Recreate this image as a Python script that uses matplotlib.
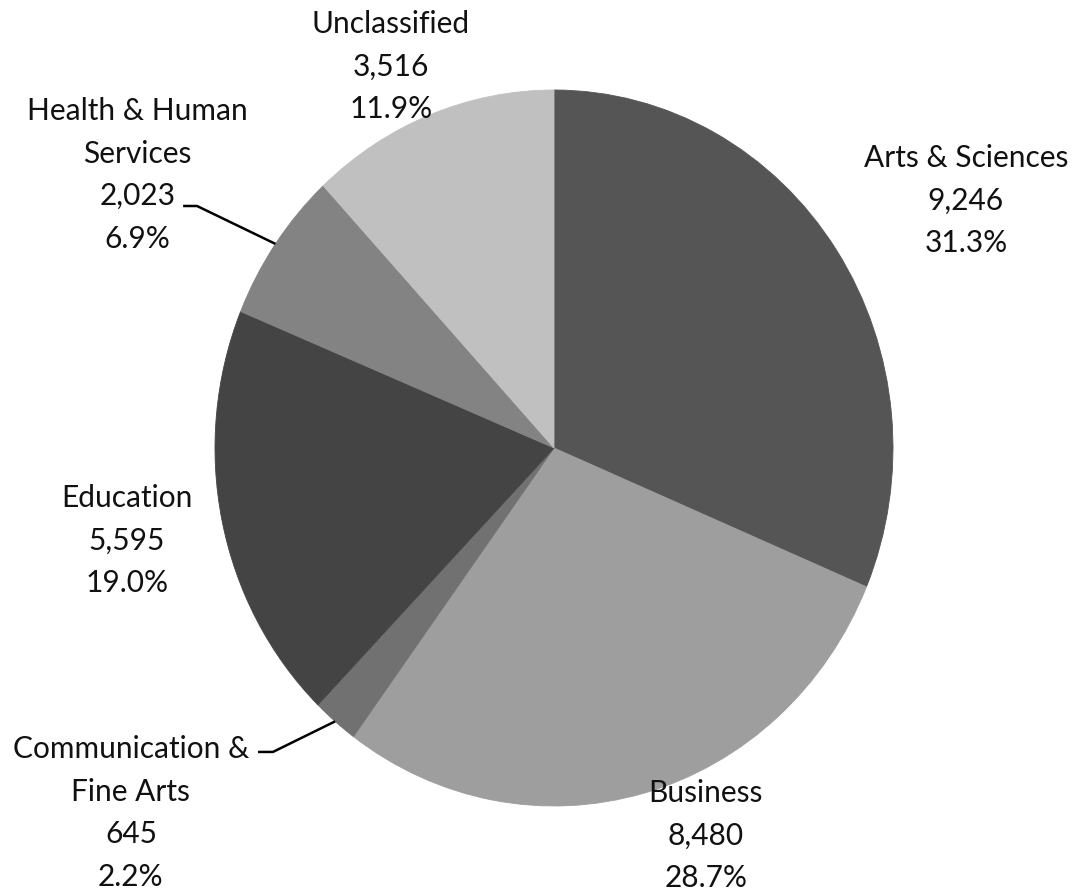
import matplotlib
matplotlib.use("Agg")
import numpy as np
import matplotlib.pyplot as plt

# Data
categories = [
    "Arts & Sciences",
    "Business",
    "Communication &\nFine Arts",
    "Education",
    "Health & Human\nServices",
    "Unclassified",
]
counts = [9246, 8480, 645, 5595, 2023, 3516]
colors = ["#555555", "#9e9e9e", "#717171", "#444444", "#838383", "#c0c0c0"]

# label anchors (first baseline, data coords) and which ones get a leader line
label_pos = [
    (1.215, 0.785),
    (0.448, -0.989),
    (-1.248, -0.866),
    (-1.260, -0.165),
    (-1.229, 0.916),
    (-0.481, 1.159),
]
leader_start = {2: (-0.873, -0.849, -0.829), 4: (-1.094, 0.676, -1.053)}

plt.rcParams["font.family"] = ["Lato", "DejaVu Sans"]

fig = plt.figure(figsize=(10.75, 8.94), dpi=100)
ax = fig.add_axes([0, 0, 1, 1])

wedges, _ = ax.pie(
    counts,
    colors=colors,
    startangle=90,
    counterclock=False,
    wedgeprops={"linewidth": 0.6},
)
# hide the seams between slices
for w in wedges:
    w.set_edgecolor(w.get_facecolor())

# the original is slightly stretched vertically, so keep aspect auto
ax.set_aspect("auto")
ax.set_xlim(-554 / 339, 521 / 339)
ax.set_ylim(-446 / 358, 448 / 358)
ax.axis("off")

total = sum(counts)
line_step = 30.6  # points between text lines
for i, (name, n) in enumerate(zip(categories, counts)):
    lines = name.split("\n") + [f"{n:,}", f"{100 * n / total:.1f}%"]
    x, y = label_pos[i]
    for k, txt in enumerate(lines):
        ax.annotate(
            txt,
            xy=(x, y),
            xytext=(0, -k * line_step),
            textcoords="offset points",
            ha="center",
            va="baseline",
            fontsize=21.5,
            color="#111111",
            annotation_clip=False,
        )

# leader lines for the small slices
for i, (x0, y0, x1) in leader_start.items():
    w = wedges[i]
    mid = np.deg2rad((w.theta1 + w.theta2) / 2)
    ax.plot(
        [x0, x1, np.cos(mid)],
        [y0, y0, np.sin(mid)],
        color="black",
        linewidth=1.8,
        solid_capstyle="butt",
    )

fig.savefig("out.png", dpi=100)
